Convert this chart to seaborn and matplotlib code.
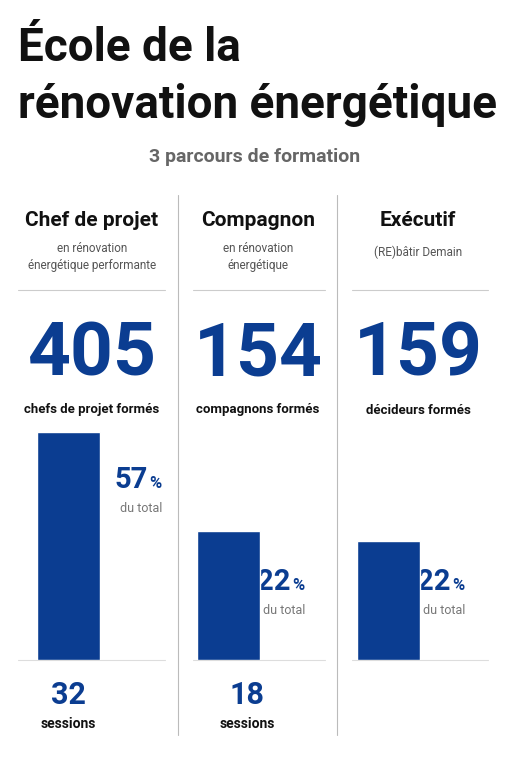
import matplotlib
matplotlib.use("Agg")
import matplotlib.pyplot as plt
import seaborn as sns
import pandas as pd

# data
parcours = ["Chef de projet", "Compagnon", "Exécutif"]
sous_titres = ["en rénovation\nénergétique performante", "en rénovation\nénergétique", "(RE)bâtir Demain"]
formes = [405, 154, 159]
labels_formes = ["chefs de projet formés", "compagnons formés", "décideurs formés"]
pourcentages = [57, 22, 22]
bar_hauteurs = [228, 129, 119]   # bar heights as drawn in the picture
sessions = [32, 18, None]

BLUE = "#0b3d91"
sns.set_theme(style="white")
plt.rcParams["font.family"] = ["Roboto", "DejaVu Sans"]

fig = plt.figure(figsize=(5.11, 7.68), dpi=100)
fig.patch.set_facecolor("white")

# text layer in pixel coords
tx = fig.add_axes([0, 0, 1, 1])
tx.set_xlim(0, 511)
tx.set_ylim(768, 0)
tx.axis("off")

tx.text(18, 48, "École de la", fontsize=33, fontweight="bold", color="#111", va="center")
tx.text(18, 105, "rénovation énergétique", fontsize=33, fontweight="bold", color="#111", va="center")
tx.text(255, 157, "3 parcours de formation", fontsize=14, fontweight="bold", color="#666", ha="center", va="center")

for xv in [178, 337]:
    tx.plot([xv, xv], [195, 735], color="#bbb", lw=0.8)

centers = [92, 258, 418]
lines = [(18, 165), (193, 325), (352, 488)]
pct_right = [148, 291, 451]
for i, c in enumerate(centers):
    tx.plot(lines[i], [290, 290], color="#ccc", lw=0.8)
    tx.plot(lines[i], [660, 660], color="#ddd", lw=0.8)
    tx.text(c, 220, parcours[i], fontsize=15, fontweight="bold", color="#111", ha="center", va="center")
    tx.text(c, 257 if "\n" in sous_titres[i] else 252, sous_titres[i], fontsize=8.5, color="#555",
            ha="center", va="center", linespacing=1.4)
    tx.text(c, 355, str(formes[i]), fontsize=54, fontweight="bold", color=BLUE, ha="center", va="center")
    tx.text(c, 410, labels_formes[i], fontsize=9.5, fontweight="bold", color="#111", ha="center", va="center")
    ypct = [480, 582, 582][i]
    px = pct_right[i]
    tx.text(px, ypct, f"{pourcentages[i]}", fontsize=21, fontweight="bold", color=BLUE, ha="right", va="center")
    tx.text(px + 1, ypct + 3, "%", fontsize=12, fontweight="bold", color=BLUE, ha="left", va="center")
    tx.text(px - 7, ypct + 28, "du total", fontsize=9, color="#777", ha="center", va="center")
    if sessions[i] is not None:
        cx = [68, 247][i]
        tx.text(cx, 695, str(sessions[i]), fontsize=22, fontweight="bold", color=BLUE, ha="center", va="center")
        tx.text(cx, 724, "sessions", fontsize=10, fontweight="bold", color="#111", ha="center", va="center")

# bar layer
bx = fig.add_axes([0, (768 - 660) / 768, 1, 300 / 768])
df = pd.DataFrame({"parcours": parcours, "hauteur": bar_hauteurs})
sns.barplot(data=df, x="parcours", y="hauteur", color=BLUE, saturation=1, width=63 / 160, ax=bx)
bx.set_xlim(-68.5 / 160, -68.5 / 160 + 511 / 160)
bx.set_ylim(0, 300)
bx.axis("off")
bx.patch.set_alpha(0)

fig.savefig("out.png", dpi=100)
